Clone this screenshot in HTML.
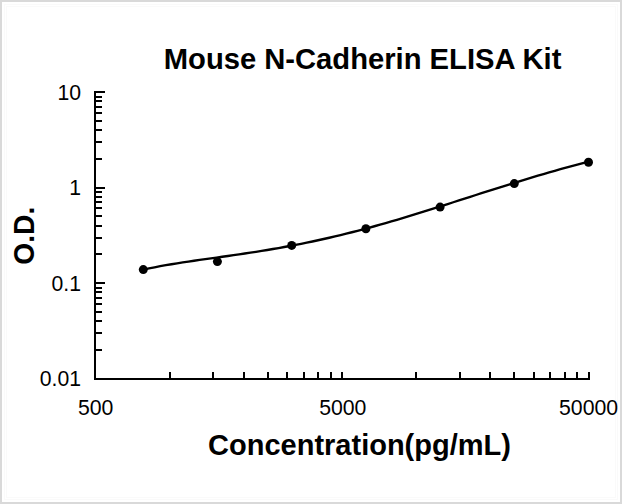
<!DOCTYPE html>
<html><head><meta charset="utf-8"><style>
html,body{margin:0;padding:0;background:#fff;}
body{width:622px;height:504px;overflow:hidden;position:relative;}
svg{position:absolute;left:0;top:0;}
text{font-family:"Liberation Sans",sans-serif;fill:#000;}
</style></head><body>
<svg width="622" height="504" viewBox="0 0 622 504">
<rect x="0" y="0" width="622" height="504" fill="#d9d9d9"/>
<rect x="2" y="2" width="618" height="500" fill="#fff"/>
<g fill="none" stroke="#fafafa" stroke-width="1" shape-rendering="crispEdges">
<rect x="4.5" y="4.5" width="613" height="495"/>
<rect x="6.5" y="6.5" width="609" height="491"/>
</g>
<text transform="translate(362.6,69) scale(1,1.04)" font-size="29.2" font-weight="bold" text-anchor="middle">Mouse N-Cadherin ELISA Kit</text>
<text transform="translate(33.8,235.7) rotate(-90) scale(0.965,1.04)" font-size="29.2" font-weight="bold" text-anchor="middle">O.D.</text>
<text transform="translate(359.5,454.6) scale(1,1.04)" font-size="29.0" font-weight="bold" text-anchor="middle">Concentration(pg/mL)</text>
<g font-size="21.2" text-anchor="end">
<text x="81" y="100">10</text>
<text x="81" y="195">1</text>
<text x="81" y="291">0.1</text>
<text x="81" y="386">0.01</text>
</g>
<g font-size="21.25" text-anchor="middle">
<text x="95.7" y="415">500</text>
<text x="342.8" y="415">5000</text>
<text x="588.6" y="415">50000</text>
</g>
<g fill="#000" shape-rendering="crispEdges"><rect x="94" y="91" width="2" height="289"/><rect x="94" y="378" width="496" height="2"/><rect x="96" y="91" width="9" height="2"/><rect x="96" y="187" width="9" height="2"/><rect x="96" y="282" width="9" height="2"/><rect x="96" y="96" width="6" height="2"/><rect x="96" y="100" width="6" height="2"/><rect x="96" y="106" width="6" height="2"/><rect x="96" y="112" width="6" height="2"/><rect x="96" y="120" width="6" height="2"/><rect x="96" y="129" width="6" height="2"/><rect x="96" y="141" width="6" height="2"/><rect x="96" y="158" width="6" height="2"/><rect x="96" y="191" width="6" height="2"/><rect x="96" y="196" width="6" height="2"/><rect x="96" y="201" width="6" height="2"/><rect x="96" y="207" width="6" height="2"/><rect x="96" y="215" width="6" height="2"/><rect x="96" y="225" width="6" height="2"/><rect x="96" y="237" width="6" height="2"/><rect x="96" y="253" width="6" height="2"/><rect x="96" y="287" width="6" height="2"/><rect x="96" y="291" width="6" height="2"/><rect x="96" y="297" width="6" height="2"/><rect x="96" y="303" width="6" height="2"/><rect x="96" y="311" width="6" height="2"/><rect x="96" y="320" width="6" height="2"/><rect x="96" y="332" width="6" height="2"/><rect x="96" y="349" width="6" height="2"/><rect x="169" y="372" width="2" height="6"/><rect x="212" y="372" width="2" height="6"/><rect x="243" y="372" width="2" height="6"/><rect x="267" y="372" width="2" height="6"/><rect x="286" y="372" width="2" height="6"/><rect x="303" y="372" width="2" height="6"/><rect x="317" y="372" width="2" height="6"/><rect x="330" y="372" width="2" height="6"/><rect x="341" y="372" width="2" height="6"/><rect x="415" y="372" width="2" height="6"/><rect x="459" y="372" width="2" height="6"/><rect x="489" y="372" width="2" height="6"/><rect x="513" y="372" width="2" height="6"/><rect x="533" y="372" width="2" height="6"/><rect x="549" y="372" width="2" height="6"/><rect x="564" y="372" width="2" height="6"/><rect x="576" y="372" width="2" height="6"/><rect x="588" y="372" width="2" height="6"/></g>
<path d="M143.30,269.60 L148.94,268.41 L154.57,267.28 L160.21,266.22 L165.85,265.21 L171.48,264.25 L177.12,263.34 L182.76,262.45 L188.39,261.60 L194.03,260.77 L199.67,259.95 L205.30,259.15 L210.94,258.36 L216.58,257.57 L222.21,256.77 L227.85,255.98 L233.49,255.17 L239.12,254.35 L244.76,253.52 L250.40,252.66 L256.03,251.79 L261.67,250.89 L267.31,249.97 L272.94,249.02 L278.58,248.04 L284.22,247.03 L289.85,245.99 L295.49,244.91 L301.13,243.81 L306.76,242.66 L312.40,241.49 L318.04,240.27 L323.67,239.02 L329.31,237.74 L334.95,236.42 L340.58,235.07 L346.22,233.68 L351.86,232.25 L357.49,230.80 L363.13,229.31 L368.77,227.79 L374.41,226.25 L380.04,224.67 L385.68,223.06 L391.32,221.43 L396.95,219.78 L402.59,218.10 L408.23,216.40 L413.86,214.68 L419.50,212.94 L425.14,211.19 L430.77,209.42 L436.41,207.64 L442.05,205.85 L447.68,204.05 L453.32,202.25 L458.96,200.44 L464.59,198.63 L470.23,196.81 L475.87,195.00 L481.50,193.19 L487.14,191.39 L492.78,189.59 L498.41,187.81 L504.05,186.03 L509.69,184.27 L515.32,182.52 L520.96,180.78 L526.60,179.07 L532.23,177.37 L537.87,175.69 L543.51,174.04 L549.14,172.41 L554.78,170.80 L560.42,169.22 L566.05,167.66 L571.69,166.13 L577.33,164.63 L582.96,163.16 L588.60,161.71" stroke="#000" stroke-width="2.35" fill="none" stroke-linejoin="round"/>
<g fill="#000"><circle cx="143.3" cy="269.6" r="4.5"/><circle cx="217.4" cy="261.6" r="4.5"/><circle cx="291.7" cy="245.4" r="4.5"/><circle cx="365.9" cy="228.8" r="4.5"/><circle cx="440.1" cy="207.1" r="4.5"/><circle cx="514.3" cy="183.6" r="4.5"/><circle cx="588.5" cy="162.2" r="4.5"/></g>
</svg>
</body></html>
